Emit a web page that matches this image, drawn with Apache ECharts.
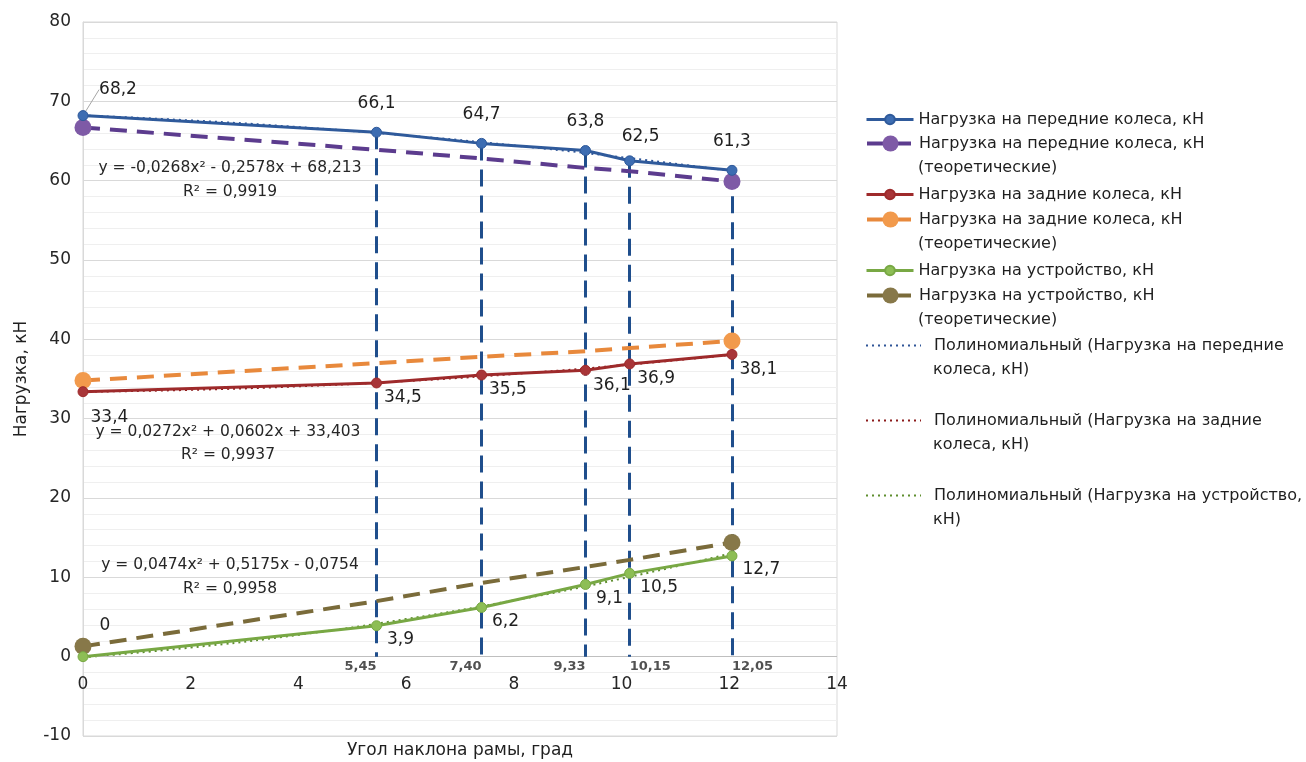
<!DOCTYPE html>
<html><head><meta charset="utf-8">
<script src="https://cdn.jsdelivr.net/npm/echarts@6/dist/echarts.min.js"></script>
<style>html,body{margin:0;padding:0;background:#fff}#c{width:1306px;height:762px}</style>
</head><body><div id="c"></div>
<script>
// ---- data ----
const angles = [0, 5.45, 7.40, 9.33, 10.15, 12.05];
const angleLabels = ['5,45', '7,40', '9,33', '10,15', '12,05'];
const frontMeasured = [68.2, 66.1, 64.7, 63.8, 62.5, 61.3];
const frontTheory = [66.7, 63.9, 62.8, 61.6, 61.2, 59.9];
const rearMeasured = [33.4, 34.5, 35.5, 36.1, 36.9, 38.1];
const rearTheory = [34.8, 37.0, 37.8, 38.5, 38.9, 39.8];
const deviceMeasured = [0, 3.9, 6.2, 9.1, 10.5, 12.7];
const deviceTheory = [1.3, 7.0, 9.3, 11.3, 12.2, 14.4];
const trendX = [0, 2, 4, 6, 8, 10, 12.05];
const trendFront = [68.21, 67.59, 66.75, 65.70, 64.44, 62.96, 61.22];
const trendRear = [33.40, 33.63, 34.08, 34.74, 35.63, 36.73, 38.08];
const trendDevice = [-0.08, 1.15, 2.75, 4.74, 7.10, 9.84, 13.04];
const seriesNames = [
  'Нагрузка на передние колеса, кН',
  'Нагрузка на передние колеса, кН (теоретические)',
  'Нагрузка на задние колеса, кН',
  'Нагрузка на задние колеса, кН (теоретические)',
  'Нагрузка на устройство, кН',
  'Нагрузка на устройство, кН (теоретические)',
  'Полиномиальный (Нагрузка на передние колеса, кН)',
  'Полиномиальный (Нагрузка на задние колеса, кН)',
  'Полиномиальный (Нагрузка на устройство, кН)'
];
const legendLines = [
  ['Нагрузка на передние колеса, кН'],
  ['Нагрузка на передние колеса, кН', '(теоретические)'],
  ['Нагрузка на задние колеса, кН'],
  ['Нагрузка на задние колеса, кН', '(теоретические)'],
  ['Нагрузка на устройство, кН'],
  ['Нагрузка на устройство, кН', '(теоретические)'],
  ['Полиномиальный (Нагрузка на передние', 'колеса, кН)'],
  ['Полиномиальный (Нагрузка на задние', 'колеса, кН)'],
  ['Полиномиальный (Нагрузка на устройство,', 'кН)']
];
const equations = [
  ['y = -0,0268x² - 0,2578x + 68,213', 'R² = 0,9919'],
  ['y = 0,0272x² + 0,0602x + 33,403', 'R² = 0,9937'],
  ['y = 0,0474x² + 0,5175x - 0,0754', 'R² = 0,9958']
];
const xAxisName = 'Угол наклона рамы, град';
const yAxisName = 'Нагрузка, кН';

// ---- styles ----
const FONT = 'DejaVu Sans';
const colors = {
  front: '#2F5A9B', frontFill: '#3D6DB2',
  frontT: '#5C3C8E', frontTFill: '#7E5AA6',
  rear: '#9E2A2B', rearFill: '#A83538',
  rearT: '#E8893C', rearTFill: '#F29A4C',
  dev: '#78A844', devFill: '#8DBE55',
  devT: '#7A6B3A', devTFill: '#877849',
  vline: '#1F4E8C'
};
const fmt = v => String(v).replace('.', ',');
const pts = ys => ys.map((y, i) => [angles[i], y]);
const trendPts = ys => ys.map((y, i) => [trendX[i], y]);
const theoryPts = ys => ys.map((y, i) => ({
  value: [angles[i], y],
  symbol: (i === 0 || i === ys.length - 1) ? 'circle' : 'none'
}));
const lbl = { show: true, fontFamily: FONT, fontSize: 17, color: '#1f1f1f', formatter: p => fmt(p.value[1]) };

function measured(name, data, c, fill, label, labelLayout) {
  const s = {
    name, type: 'line', data, symbol: 'circle', symbolSize: 10, z: 6,
    lineStyle: { color: c, width: 3 },
    itemStyle: { color: fill, borderColor: c, borderWidth: 1 },
    label, emphasis: { disabled: true },
    labelLine: { show: false, lineStyle: { color: '#A6A6A6', width: 1 } }
  };
  if (labelLayout) s.labelLayout = labelLayout;
  return s;
}
function theory(name, ys, c, fill) {
  return {
    name, type: 'line', data: theoryPts(ys), symbol: 'circle', symbolSize: 17, z: 5,
    showAllSymbol: true,
    lineStyle: { color: c, width: 4, type: [17, 10] },
    itemStyle: { color: fill, borderColor: fill, borderWidth: 0 },
    emphasis: { disabled: true }
  };
}
function trend(name, ys, c) {
  return {
    name, type: 'line', data: trendPts(ys), smooth: true, symbol: 'none', z: 4,
    lineStyle: { color: c, width: 2, type: [2, 4] },
    itemStyle: { color: c },
    emphasis: { disabled: true }
  };
}

const frontData = pts(frontMeasured).map((v, i) => i === 0 ? { value: v, labelLine: { show: true } } : v);

const series = [
  measured(seriesNames[0], frontData, colors.front, colors.frontFill,
    Object.assign({}, lbl, { position: 'top', distance: 15 }),
    p => p.dataIndex === 0 ? { dx: 35, dy: 3 } : (p.dataIndex === 4 ? { dx: 11, dy: 5 } : {})),
  theory(seriesNames[1], frontTheory, colors.frontT, colors.frontTFill),
  measured(seriesNames[2], pts(rearMeasured), colors.rear, colors.rearFill,
    Object.assign({}, lbl, { position: 'right', distance: 2 }),
    p => ({ dx: 0, dy: p.dataIndex === 0 ? 26 : 15 })),
  theory(seriesNames[3], rearTheory, colors.rearT, colors.rearTFill),
  measured(seriesNames[4], pts(deviceMeasured), colors.dev, colors.devFill,
    Object.assign({}, lbl, { position: 'right', distance: 3 }),
    p => p.dataIndex === 0 ? { dx: 8, dy: -31 } : { dx: 2, dy: 14 }),
  theory(seriesNames[5], deviceTheory, colors.devT, colors.devTFill),
  trend(seriesNames[6], trendFront, '#2F5597'),
  trend(seriesNames[7], trendRear, '#8B1A1A'),
  trend(seriesNames[8], trendDevice, '#5E8E2E'),
  {
    name: 'angleMarks', type: 'scatter', z: 3, silent: true, symbolSize: 0,
    data: angles.slice(1).map((x, i) => ({
      value: [x, 0],
      label: { align: i < 3 ? 'right' : 'left' }
    })),
    label: {
      show: true, position: 'bottom', distance: 3,
      fontFamily: FONT, fontSize: 13, fontWeight: 'bold', color: '#262626',
      formatter: p => angleLabels[p.dataIndex]
    },
    markLine: {
      silent: true, symbol: ['none', 'none'], animation: false,
      label: { show: false },
      lineStyle: { color: colors.vline, width: 3, type: [17, 9] },
      emphasis: { disabled: true },
      data: [{ yAxis: 0, lineStyle: { color: '#BFBFBF', width: 1, type: 'solid' } }].concat(
        angles.slice(1).map((x, i) => [{ coord: [x, frontMeasured[i + 1]] }, { coord: [x, 0] }]))
    }
  }
];

// ---- legends (one per series, to mimic Excel's wrapped legend) ----
const legendRows = [119, 143, 194, 219, 270, 295, 345, 420, 495];
const LH = 25;
const graphic = [];
const legends = seriesNames.map((name, i) => {
  const lines = legendLines[i];
  const isTheory = i === 1 || i === 3 || i === 5;
  const isTrend = i >= 6;
  const textX = isTrend ? 933 : 918;
  for (let k = 1; k < lines.length; k++) {
    graphic.push({
      type: 'text', x: textX, y: legendRows[i] + LH * k, silent: true,
      style: { text: lines[k], align: 'left', verticalAlign: 'middle', font: '16px "DejaVu Sans"', fill: '#1f1f1f' }
    });
  }
  return {
    orient: 'vertical', left: 865, top: legendRows[i] - 12,
    padding: 0, itemGap: 0, selectedMode: false,
    itemWidth: isTrend ? 55 : 47, itemHeight: isTheory ? 20 : 12,
    lineStyle: { width: isTheory ? 4 : (isTrend ? 2 : 3) },
    data: [{
      name,
      itemStyle: isTrend ? { opacity: 0 } : undefined,
      textStyle: {
        fontFamily: FONT, fontSize: 16, color: '#1f1f1f', lineHeight: LH,
        backgroundColor: 'rgba(255,255,255,0)',
        padding: [0, 0, 0, isTrend ? 8 : 0]
      }
    }],
    formatter: () => lines[0]
  };
});

// ---- equation texts ----
const eqPos = [[230, 168, 192], [228, 432, 455], [230, 565, 589]];
equations.forEach((eq, i) => {
  eq.forEach((t, j) => {
    graphic.push({
      type: 'text', x: eqPos[i][0], y: eqPos[i][1 + j], silent: true, z: 10,
      style: { text: t, align: 'center', verticalAlign: 'middle', font: '15.5px "DejaVu Sans"', fill: '#262626' }
    });
  });
});

const option = {
  animation: false,
  backgroundColor: '#fff',
  grid: { left: 83, right: 469, top: 22, bottom: 26, show: true, borderColor: '#D9D9D9', borderWidth: 1, outerBoundsMode: 'none', containLabel: false },
  xAxis: {
    type: 'value', min: 0, max: 14, interval: 2,
    name: xAxisName, nameLocation: 'middle', nameGap: 5,
    nameTextStyle: { fontFamily: FONT, fontSize: 17, color: '#1f1f1f' },
    axisLine: { show: false, onZero: false },
    axisTick: { show: false },
    axisLabel: { margin: -60, fontFamily: FONT, fontSize: 17, color: '#262626' },
    splitLine: { show: false }
  },
  yAxis: {
    type: 'value', min: -10, max: 80, interval: 10,
    name: yAxisName, nameLocation: 'middle', nameGap: 53, nameRotate: 90,
    nameTextStyle: { fontFamily: FONT, fontSize: 17, color: '#1f1f1f' },
    axisLine: { show: true, onZero: false, lineStyle: { color: '#D9D9D9' } },
    axisTick: { show: false },
    axisLabel: { margin: 12, fontFamily: FONT, fontSize: 17, color: '#262626' },
    splitLine: { show: true, lineStyle: { color: '#D9D9D9', width: 1 } },
    minorTick: { show: false, splitNumber: 5 },
    minorSplitLine: { show: true, lineStyle: { color: '#EFEFEF', width: 1 } }
  },
  legend: legends,
  graphic,
  series
};
const chart = echarts.init(document.getElementById('c'));
chart.setOption(option);
</script></body></html>
